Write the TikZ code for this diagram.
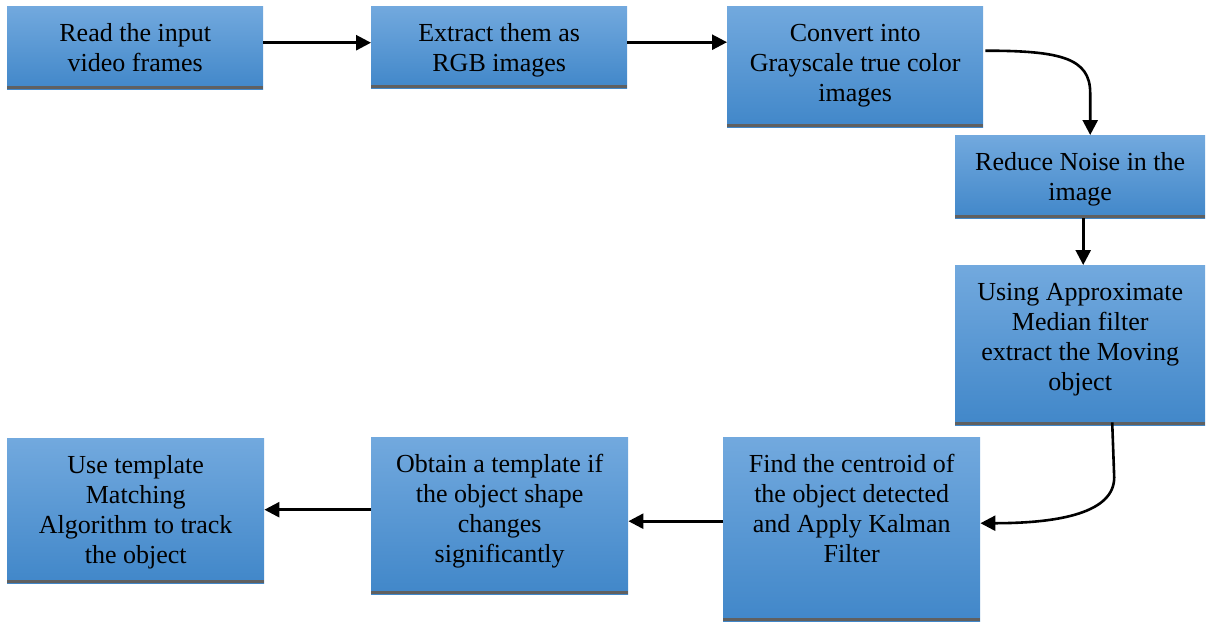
\documentclass[tikz,border=0pt]{standalone}
\usepackage{fontspec}
\setmainfont{Liberation Serif}
\newfontfamily\stepfont{Liberation Serif}
\usetikzlibrary{arrows.meta}

\definecolor{boxtop}{HTML}{72A9DE}
\definecolor{boxbot}{HTML}{4187C9}
\definecolor{boxbar}{HTML}{606060}

\newcommand{\steptext}[3]{\parbox[c][#2][t]{#1}{\centering\vspace*{14pt}\strut#3}}

\begin{document}
\begin{tikzpicture}[x=1pt, y=-1pt,
    stepbox/.style={rectangle, inner sep=0pt, anchor=north west,
        top color=boxtop, bottom color=boxbot, font=\stepfont\fontsize{26}{30}\selectfont,
        path picture={\fill[boxbar] (path picture bounding box.south west) rectangle ([yshift=3.5pt]path picture bounding box.south east);}},
    flow/.style={-{Triangle[length=15pt,width=15pt]}, line width=2.6pt}]

    \useasboundingbox (0,0) rectangle (1206,621);

    \node[stepbox] (read) at (7,6) {\steptext{256pt}{83pt}{Read the input\\video frames}};
    \node[stepbox] (extract) at (371,6) {\steptext{256pt}{82pt}{Extract them as\\RGB images}};
    \node[stepbox] (gray) at (727,6) {\steptext{256pt}{121pt}{Convert into\\Grayscale true color\\images}};
    \node[stepbox] (noise) at (955,135) {\steptext{250pt}{83pt}{Reduce Noise in the\\image}};
    \node[stepbox] (median) at (955,265) {\steptext{250pt}{160pt}{Using Approximate\\Median filter\\extract the Moving\\object}};
    \node[stepbox] (kalman) at (723,437) {\steptext{257pt}{184pt}{Find the centroid of\\the object detected\\and Apply Kalman\\Filter}};
    \node[stepbox] (template) at (371,437) {\steptext{257pt}{157pt}{Obtain a template if\\the object shape\\changes\\significantly}};
    \node[stepbox] (track) at (7,438) {\steptext{257pt}{145pt}{Use template\\Matching\\Algorithm to track\\the object}};

    \draw[flow] ([yshift=5pt]read.east) -- ([yshift=5pt]read.east -| extract.west);
    \draw[flow] ([yshift=5pt]extract.east) -- ([yshift=5pt]extract.east -| gray.west);
    \draw[flow] ([xshift=2pt,yshift=16pt]gray.east) .. controls +(75,0) and +(0,-35) .. ([xshift=10pt,yshift=42pt]noise.north) -- ([xshift=10pt]noise.north);
    \draw[flow] ([xshift=3pt]noise.south) -- ([xshift=3pt]median.north);
    \draw[flow] ([xshift=32pt,yshift=3pt]median.south) -- ([xshift=34pt,yshift=-52pt]median.south) .. controls +(0,35) and +(80,0) .. ([yshift=6pt]kalman.east);
    \draw[flow] ([yshift=8pt]kalman.west) -- ([yshift=8pt]kalman.west -| template.east);
    \draw[flow] ([yshift=6pt]template.west) -- ([yshift=6pt]template.west -| track.east);
\end{tikzpicture}
\end{document}
